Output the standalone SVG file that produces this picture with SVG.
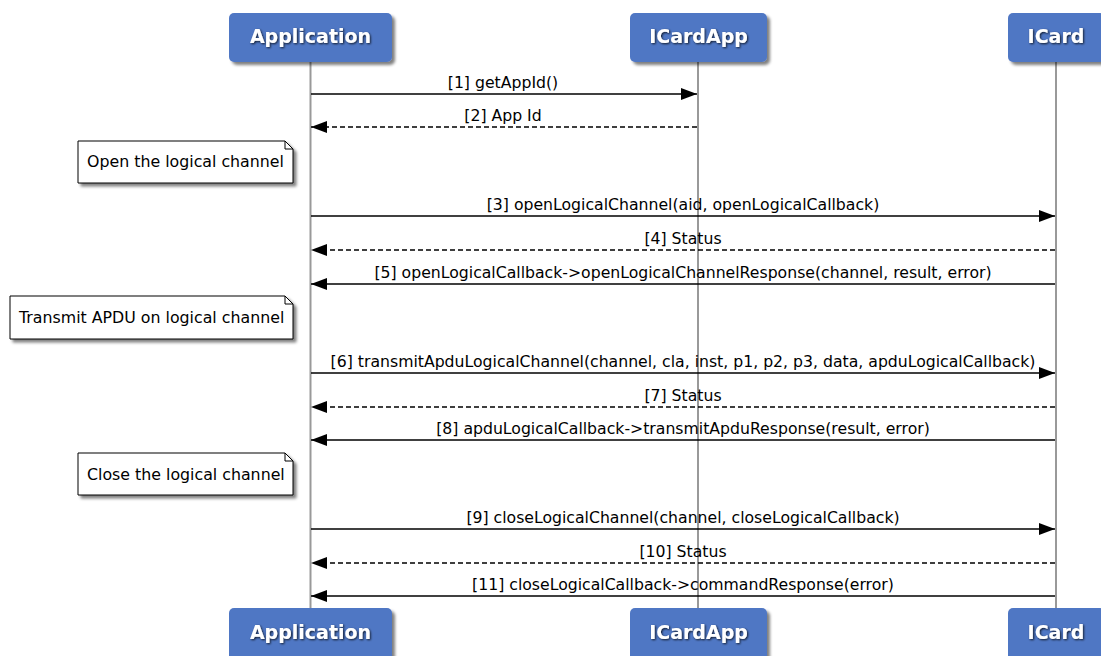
<svg xmlns="http://www.w3.org/2000/svg" width="1101" height="656" viewBox="0 0 1101 656">
<defs>
<marker id="ah" markerWidth="16" markerHeight="12" refX="16" refY="6" orient="auto" markerUnits="userSpaceOnUse">
<path d="M0,0 L16,6 L0,12 Z" fill="#000"/>
</marker>
<filter id="sh" x="-20%" y="-20%" width="140%" height="160%">
<feGaussianBlur in="SourceAlpha" stdDeviation="1.5"/>
<feOffset dx="3" dy="3" result="o"/>
<feComponentTransfer><feFuncA type="linear" slope="0.5"/></feComponentTransfer>
<feMerge><feMergeNode/><feMergeNode in="SourceGraphic"/></feMerge>
</filter>
<filter id="tsh" x="-10%" y="-30%" width="120%" height="160%">
<feGaussianBlur in="SourceAlpha" stdDeviation="1"/>
<feOffset dx="1" dy="1"/>
<feComponentTransfer><feFuncA type="linear" slope="0.8"/></feComponentTransfer>
<feMerge><feMergeNode/><feMergeNode in="SourceGraphic"/></feMerge>
</filter>
</defs>
<style>
.hdr{fill:#5077c4;filter:url(#sh)}
.ht{font-family:"DejaVu Sans",sans-serif;font-weight:bold;font-size:19px;fill:#fff;text-anchor:middle;filter:url(#tsh)}
.life{stroke:#999;stroke-width:2;fill:none}
.msg{stroke:#000;stroke-width:1.5;fill:none;marker-end:url(#ah)}
.dash{stroke-dasharray:5,3}
.lbl{font-family:"DejaVu Sans",sans-serif;font-size:15.7px;fill:#000;text-anchor:middle}
.note{fill:#fff;stroke:#000;stroke-width:1;filter:url(#sh)}
.nt{font-family:"DejaVu Sans",sans-serif;font-size:15.8px;fill:#000}
</style>
<rect width="1101" height="656" fill="#fff"/>
<g id="lifelines">
<line class="life" x1="310.5" y1="62" x2="310.5" y2="609"/>
<line class="life" x1="698" y1="62" x2="698" y2="609"/>
<line class="life" x1="1056" y1="62" x2="1056" y2="609"/>
</g>
<g id="node-application-top"><rect class="hdr" x="229" y="13" width="163" height="49" rx="5"/><text class="ht" x="310.5" y="43">Application</text></g>
<g id="node-icardapp-top"><rect class="hdr" x="630" y="13" width="137" height="49" rx="5"/><text class="ht" x="698.5" y="43">ICardApp</text></g>
<g id="node-icard-top"><rect class="hdr" x="1008" y="13" width="97" height="49" rx="5"/><text class="ht" x="1056" y="43">ICard</text></g>
<g id="node-application-bottom"><rect class="hdr" x="229" y="608" width="163" height="55" rx="5"/><text class="ht" x="310.5" y="639">Application</text></g>
<g id="node-icardapp-bottom"><rect class="hdr" x="630" y="608" width="137" height="55" rx="5"/><text class="ht" x="698.5" y="639">ICardApp</text></g>
<g id="node-icard-bottom"><rect class="hdr" x="1008" y="608" width="97" height="55" rx="5"/><text class="ht" x="1056" y="639">ICard</text></g>
<g id="note-open"><path class="note" d="M78,141 H285 L293,149 V183 H78 Z"/><path d="M285,141 V149 H293" fill="none" stroke="#000"/><text class="nt" x="87" y="167">Open the logical channel</text></g>
<g id="note-transmit"><path class="note" d="M10,296 H285 L293,304 V339 H10 Z"/><path d="M285,296 V304 H293" fill="none" stroke="#000"/><text class="nt" x="19" y="323">Transmit APDU on logical channel</text></g>
<g id="note-close"><path class="note" d="M78,453 H285 L293,461 V495 H78 Z"/><path d="M285,453 V461 H293" fill="none" stroke="#000"/><text class="nt" x="87" y="480">Close the logical channel</text></g>
<g id="connectors">
<line class="msg" x1="311" y1="94" x2="697" y2="94"/>
<text class="lbl" x="503" y="88">[1] getAppId()</text>
<line class="msg dash" x1="697" y1="127" x2="311" y2="127"/>
<text class="lbl" x="503" y="121">[2] App Id</text>
<line class="msg" x1="311" y1="216" x2="1055" y2="216"/>
<text class="lbl" x="683" y="210">[3] openLogicalChannel(aid, openLogicalCallback)</text>
<line class="msg dash" x1="1055" y1="250" x2="311" y2="250"/>
<text class="lbl" x="683" y="244">[4] Status</text>
<line class="msg" x1="1055" y1="284" x2="311" y2="284"/>
<text class="lbl" x="683" y="278">[5] openLogicalCallback-&gt;openLogicalChannelResponse(channel, result, error)</text>
<line class="msg" x1="311" y1="373" x2="1055" y2="373"/>
<text class="lbl" x="683" y="367">[6] transmitApduLogicalChannel(channel, cla, inst, p1, p2, p3, data, apduLogicalCallback)</text>
<line class="msg dash" x1="1055" y1="407" x2="311" y2="407"/>
<text class="lbl" x="683" y="401">[7] Status</text>
<line class="msg" x1="1055" y1="440" x2="311" y2="440"/>
<text class="lbl" x="683" y="434">[8] apduLogicalCallback-&gt;transmitApduResponse(result, error)</text>
<line class="msg" x1="311" y1="529" x2="1055" y2="529"/>
<text class="lbl" x="683" y="523">[9] closeLogicalChannel(channel, closeLogicalCallback)</text>
<line class="msg dash" x1="1055" y1="563" x2="311" y2="563"/>
<text class="lbl" x="683" y="557">[10] Status</text>
<line class="msg" x1="1055" y1="596" x2="311" y2="596"/>
<text class="lbl" x="683" y="590">[11] closeLogicalCallback-&gt;commandResponse(error)</text>
</g>
</svg>
